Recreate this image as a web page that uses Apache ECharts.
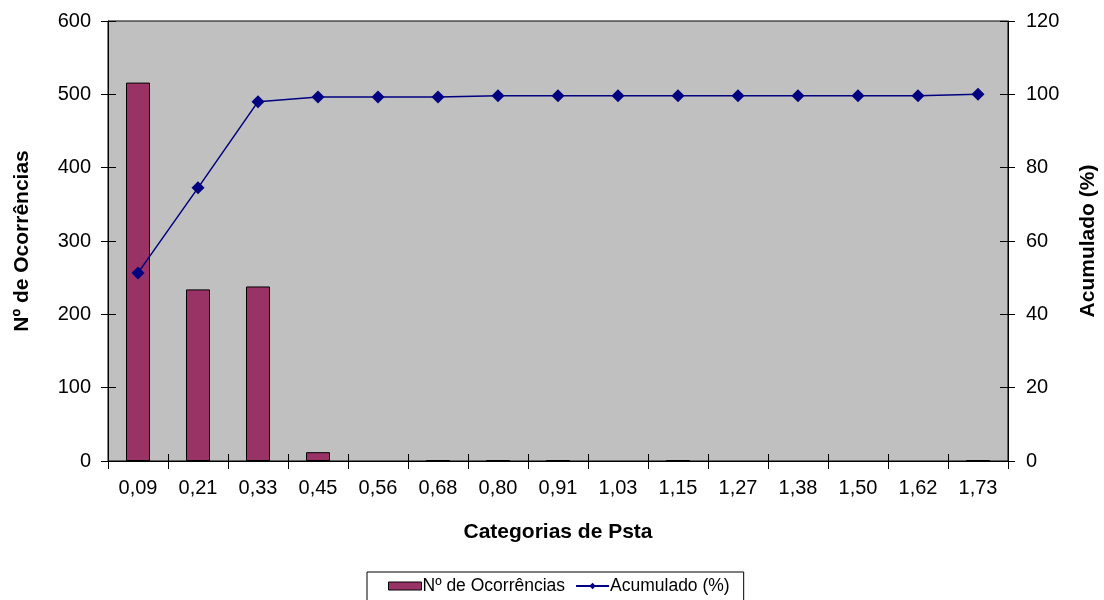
<!DOCTYPE html>
<html>
<head>
<meta charset="utf-8">
<script src="https://cdn.jsdelivr.net/npm/echarts@6/dist/echarts.min.js"></script>
<style>
  html, body { margin: 0; padding: 0; background: #fff; }
  #chart { width: 1104px; height: 600px; }
</style>
</head>
<body>
<div id="chart"></div>
<script>
// Psta classes (category labels on the x axis)
const categorias = ['0,09', '0,21', '0,33', '0,45', '0,56', '0,68', '0,80', '0,91',
                    '1,03', '1,15', '1,27', '1,38', '1,50', '1,62', '1,73'];
// Number of occurrences per class
const ocorrencias = [516, 234, 238, 12, 0, 1, 1, 1, 0, 1, 0, 0, 0, 0, 1];
// Cumulative percentage
const acumulado = [51.3, 74.5, 98.0, 99.3, 99.3, 99.3, 99.6, 99.6, 99.6, 99.6, 99.6, 99.6, 99.6, 99.6, 100];

const leftTicks = { min: 0, max: 600, interval: 100 };
const rightTicks = { min: 0, max: 120, interval: 20 };

const FONT = 'Liberation Sans, Arial, sans-serif';
const chart = echarts.init(document.getElementById('chart'), null, { renderer: 'canvas' });

const tickStyle = { color: '#000', width: 1 };

// empty classes get no bar at all (not even an outline)
const barData = ocorrencias.map(v => (v === 0 ? null : v));

chart.setOption({
  animation: false,
  textStyle: { fontFamily: FONT, color: '#000' },
  grid: {
    left: 108, right: 96, top: 21, bottom: 139,
    outerBoundsMode: 'none', containLabel: false,
    show: true, backgroundColor: '#c0c0c0', borderColor: '#000', borderWidth: 1
  },
  legend: {
    left: 367, top: 572,
    padding: [5, 14, 20, 21],
    itemGap: 10,
    itemWidth: 33, itemHeight: 8,
    borderColor: '#000', borderWidth: 1,
    textStyle: { fontFamily: FONT, fontSize: 17.5, color: '#000', padding: [0, 0, 0, -4] },
    data: [
      { name: 'Nº de Ocorrências', icon: 'rect', itemStyle: { borderColor: '#000', borderWidth: 1 } },
      { name: 'Acumulado (%)' }
    ]
  },
  xAxis: [
    {
      type: 'category', data: categorias, position: 'bottom',
      name: 'Categorias de Psta', nameLocation: 'middle', nameGap: 61,
      nameTextStyle: { fontFamily: FONT, fontSize: 21, fontWeight: 'bold', color: '#000' },
      axisLine: { lineStyle: { color: '#000', width: 1 } },
      axisTick: { show: true, length: 8, lineStyle: tickStyle },
      axisLabel: { fontFamily: FONT, fontSize: 20, color: '#000', margin: 17 }
    },
    {
      // inner half of the crossing tick marks
      type: 'category', data: categorias, position: 'bottom',
      axisLine: { show: false },
      axisTick: { show: true, inside: true, length: 7, lineStyle: tickStyle },
      axisLabel: { show: false }
    }
  ],
  yAxis: [
    {
      type: 'value', position: 'left', ...leftTicks,
      name: 'Nº de Ocorrências', nameLocation: 'middle', nameGap: 75, nameRotate: 90,
      nameTextStyle: { fontFamily: FONT, fontSize: 21, fontWeight: 'bold', color: '#000' },
      axisLine: { show: true, lineStyle: { color: '#000', width: 1 } },
      axisTick: { show: true, length: 7, lineStyle: tickStyle },
      axisLabel: { fontFamily: FONT, fontSize: 20, color: '#000', margin: 17 },
      splitLine: { show: false }
    },
    {
      type: 'value', position: 'right', ...rightTicks,
      name: 'Acumulado (%)', nameLocation: 'middle', nameGap: 70, nameRotate: 90,
      nameTextStyle: { fontFamily: FONT, fontSize: 21, fontWeight: 'bold', color: '#000' },
      axisLine: { show: true, lineStyle: { color: '#000', width: 1 } },
      axisTick: { show: true, length: 7, lineStyle: tickStyle },
      axisLabel: { fontFamily: FONT, fontSize: 20, color: '#000', margin: 18 },
      splitLine: { show: false }
    },
    {
      type: 'value', position: 'left', ...leftTicks,
      axisLine: { show: false },
      axisTick: { show: true, inside: true, length: 8, lineStyle: tickStyle },
      axisLabel: { show: false }, splitLine: { show: false }
    },
    {
      type: 'value', position: 'right', ...rightTicks,
      axisLine: { show: false },
      axisTick: { show: true, inside: true, length: 8, lineStyle: tickStyle },
      axisLabel: { show: false }, splitLine: { show: false }
    }
  ],
  series: [
    {
      name: 'Nº de Ocorrências', type: 'bar', xAxisIndex: 0, yAxisIndex: 0,
      data: barData, barWidth: 24,
      itemStyle: { color: '#993366', borderColor: '#000', borderWidth: 1 }
    },
    {
      name: 'Acumulado (%)', type: 'line', xAxisIndex: 0, yAxisIndex: 1,
      data: acumulado,
      symbol: 'diamond', symbolSize: 13,
      lineStyle: { color: '#000080', width: 1.5 },
      itemStyle: { color: '#000080' }
    }
  ]
});
</script>
</body>
</html>
